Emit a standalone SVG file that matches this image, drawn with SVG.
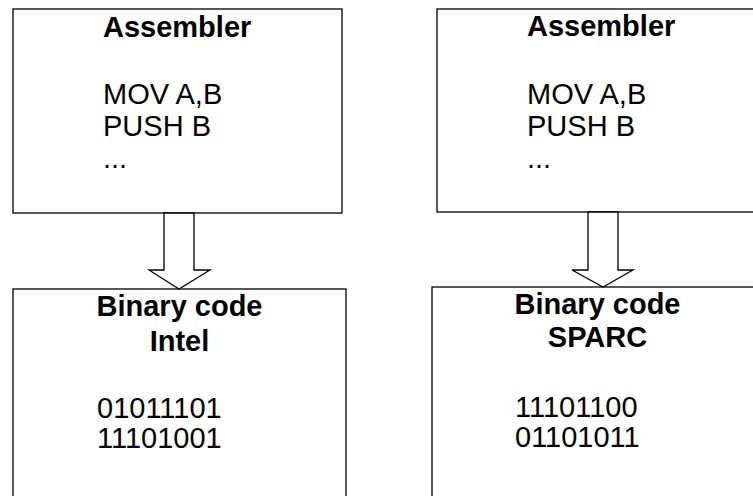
<svg xmlns="http://www.w3.org/2000/svg" width="753" height="496" viewBox="0 0 753 496">
<style>
.box{fill:#fff;stroke:#000;stroke-width:1.3}
.arr{fill:#fff;stroke:#000;stroke-width:1.3;stroke-linejoin:miter}
text{font-family:"Liberation Sans",Arial,sans-serif;font-size:29px;fill:#000}
.b{font-weight:bold}
.c{text-anchor:middle}
</style>
<rect width="753" height="496" fill="#fff"/>
<g id="asm-left">
<rect class="box" x="13" y="9" width="329" height="204"/>
<text class="b" x="103" y="37">Assembler</text>
<text x="103" y="104">MOV A,B</text>
<text x="103" y="136">PUSH B</text>
<text x="103" y="168">...</text>
</g>
<g id="asm-right">
<rect class="box" x="437" y="9" width="330" height="203"/>
<text class="b" x="527" y="36">Assembler</text>
<text x="527" y="104">MOV A,B</text>
<text x="527" y="136">PUSH B</text>
<text x="527" y="168">...</text>
</g>
<g id="bin-intel">
<rect class="box" x="13" y="289" width="333" height="220"/>
<text class="b c" x="179.5" y="316">Binary code</text>
<text class="b c" x="179.5" y="351">Intel</text>
<text x="97" y="418">01011101</text>
<text x="97" y="448">11101001</text>
</g>
<g id="bin-sparc">
<rect class="box" x="432" y="287" width="335" height="220"/>
<text class="b c" x="597.5" y="314">Binary code</text>
<text class="b c" x="597.5" y="347">SPARC</text>
<text x="515" y="417">11101100</text>
<text x="515" y="447">01101011</text>
</g>
<g id="connectors">
<polygon class="arr" points="164,213 194,213 194,270 210,270 179,289 149,270 164,270"/>
<polygon class="arr" points="588,212 618,212 618,270 633,270 603,287 572,270 588,270"/>
</g>
</svg>
